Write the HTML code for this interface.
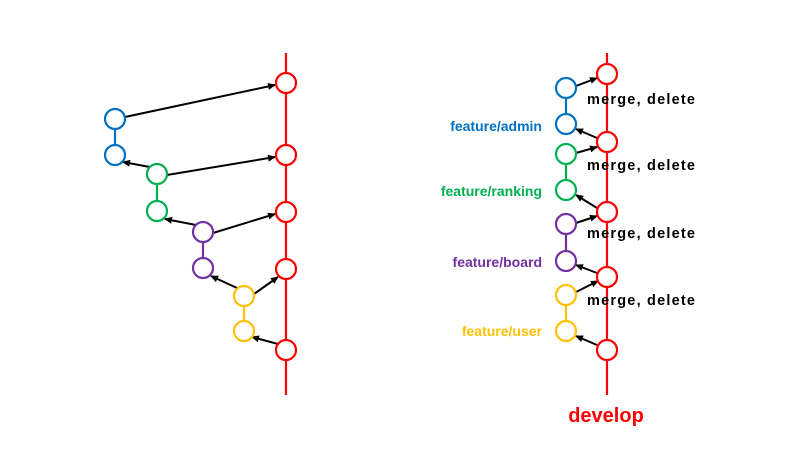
<!DOCTYPE html>
<html><head><meta charset="utf-8"><style>
html,body{margin:0;padding:0;background:#fff;}
svg{display:block;}
text{font-family:"Liberation Sans",sans-serif;font-weight:bold;}
</style></head><body>
<svg width="800" height="450" viewBox="0 0 800 450" xmlns="http://www.w3.org/2000/svg">
<defs>
<marker id="a" markerWidth="8" markerHeight="8" refX="7" refY="4" orient="auto" markerUnits="userSpaceOnUse">
<path d="M0,0.5 L8,4 L0,7.5 Z" fill="#000"/>
</marker>
</defs>
<g stroke-width="2.2" fill="#fff">
<!-- LEFT -->
<line x1="286" y1="53" x2="286" y2="395" stroke="#ff0000"/>
<line x1="115" y1="119" x2="115" y2="155" stroke="#0070c0"/>
<line x1="157" y1="174" x2="157" y2="211" stroke="#00b050"/>
<line x1="203" y1="232" x2="203" y2="268" stroke="#7030a0"/>
<line x1="244" y1="296" x2="244" y2="331" stroke="#ffc000"/>
<g stroke="#000" stroke-width="2" marker-end="url(#a)">
<line x1="125" y1="117" x2="275" y2="85"/>
<line x1="167" y1="175" x2="275" y2="157"/>
<line x1="150" y1="167" x2="123" y2="162"/>
<line x1="213" y1="233" x2="275" y2="214"/>
<line x1="196" y1="225" x2="165" y2="219"/>
<line x1="254" y1="294" x2="278" y2="277"/>
<line x1="237" y1="288" x2="211" y2="276"/>
<line x1="278" y1="344" x2="252" y2="337"/>
</g>
<circle cx="286" cy="83" r="10" stroke="#ff0000"/>
<circle cx="286" cy="155" r="10" stroke="#ff0000"/>
<circle cx="286" cy="212" r="10" stroke="#ff0000"/>
<circle cx="286" cy="269" r="10" stroke="#ff0000"/>
<circle cx="286" cy="350" r="10" stroke="#ff0000"/>
<circle cx="115" cy="119" r="10" stroke="#0070c0"/>
<circle cx="115" cy="155" r="10" stroke="#0070c0"/>
<circle cx="157" cy="174" r="10" stroke="#00b050"/>
<circle cx="157" cy="211" r="10" stroke="#00b050"/>
<circle cx="203" cy="232" r="10" stroke="#7030a0"/>
<circle cx="203" cy="268" r="10" stroke="#7030a0"/>
<circle cx="244" cy="296" r="10" stroke="#ffc000"/>
<circle cx="244" cy="331" r="10" stroke="#ffc000"/>

<!-- RIGHT -->
<line x1="607" y1="53" x2="607" y2="395" stroke="#ff0000"/>
<line x1="566" y1="88" x2="566" y2="124" stroke="#0070c0"/>
<line x1="566" y1="154" x2="566" y2="190" stroke="#00b050"/>
<line x1="566" y1="224" x2="566" y2="261" stroke="#7030a0"/>
<line x1="566" y1="295" x2="566" y2="331" stroke="#ffc000"/>
<g stroke="#000" stroke-width="2" marker-end="url(#a)">
<line x1="576" y1="86" x2="597" y2="78"/>
<line x1="597" y1="138" x2="576" y2="129"/>
<line x1="576" y1="153" x2="597" y2="147"/>
<line x1="597" y1="208" x2="576" y2="195"/>
<line x1="576" y1="223" x2="597" y2="216"/>
<line x1="597" y1="273" x2="576" y2="265"/>
<line x1="576" y1="292" x2="598" y2="281"/>
<line x1="597" y1="345" x2="576" y2="336"/>
</g>
<circle cx="607" cy="74" r="10" stroke="#ff0000"/>
<circle cx="607" cy="142" r="10" stroke="#ff0000"/>
<circle cx="607" cy="212" r="10" stroke="#ff0000"/>
<circle cx="607" cy="277" r="10" stroke="#ff0000"/>
<circle cx="607" cy="350" r="10" stroke="#ff0000"/>
<circle cx="566" cy="88" r="10" stroke="#0070c0"/>
<circle cx="566" cy="124" r="10" stroke="#0070c0"/>
<circle cx="566" cy="154" r="10" stroke="#00b050"/>
<circle cx="566" cy="190" r="10" stroke="#00b050"/>
<circle cx="566" cy="224" r="10" stroke="#7030a0"/>
<circle cx="566" cy="261" r="10" stroke="#7030a0"/>
<circle cx="566" cy="295" r="10" stroke="#ffc000"/>
<circle cx="566" cy="331" r="10" stroke="#ffc000"/>
</g>
<g font-size="14.5" fill="#000">
<text x="587" y="104" textLength="108">merge, delete</text>
<text x="587" y="170" textLength="108">merge, delete</text>
<text x="587" y="238" textLength="108">merge, delete</text>
<text x="587" y="305" textLength="108">merge, delete</text>
</g>
<g font-size="14" text-anchor="end">
<text x="542" y="131" fill="#0070c0">feature/admin</text>
<text x="542" y="196" fill="#00b050">feature/ranking</text>
<text x="542" y="267" fill="#7030a0">feature/board</text>
<text x="542" y="336" fill="#ffc000">feature/user</text>
</g>
<text x="606" y="422" font-size="20" fill="#ff0000" text-anchor="middle">develop</text>
</svg>
</body></html>
